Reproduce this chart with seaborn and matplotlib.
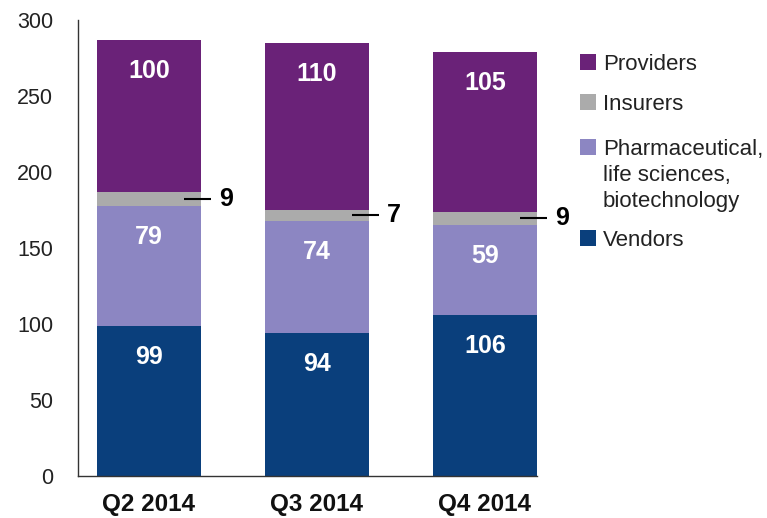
import matplotlib
matplotlib.use("Agg")
import matplotlib.pyplot as plt
from matplotlib.patches import Rectangle
import seaborn as sns
import pandas as pd
import numpy as np

quarters = ["Q2 2014", "Q3 2014", "Q4 2014"]
vendors = [99, 94, 106]
pharma = [79, 74, 59]
insurers = [9, 7, 9]
providers = [100, 110, 105]

series_names = ["Vendors", "Pharmaceutical,\nlife sciences,\nbiotechnology", "Insurers", "Providers"]
series_vals = [vendors, pharma, insurers, providers]
colors = ["#0A3F7C", "#8C86C2", "#ABABAB", "#6A2278"]

sns.set_theme(style="white")
plt.rcParams["font.family"] = ["Liberation Sans", "DejaVu Sans"]

W, H = 767, 518
fig = plt.figure(figsize=(W / 100, H / 100), dpi=100)
ax = fig.add_axes([0.102, 0.081, 0.598, 0.880])

cum = np.cumsum(np.array(series_vals), axis=0)
# draw from top (largest cumulative) down so lower segments overlay
for i in range(len(series_vals) - 1, -1, -1):
    df = pd.DataFrame({"quarter": quarters, "value": cum[i]})
    sns.barplot(data=df, x="quarter", y="value", color=colors[i], width=0.62,
                saturation=1, ax=ax, linewidth=0)

# labels
for j, q in enumerate(quarters):
    bottoms = [0, cum[0][j], cum[1][j], cum[2][j]]
    for i, vals in enumerate(series_vals):
        top = bottoms[i] + vals[j]
        mid = bottoms[i] + vals[j] / 2
        if i == 2:
            ax.plot([j + 0.21, j + 0.37], [mid, mid], color="black", lw=1.5,
                    solid_capstyle="butt", clip_on=False)
            ax.text(j + 0.42, mid, str(vals[j]), ha="left", va="center",
                    fontsize=18, fontweight="bold", color="black", clip_on=False)
        else:
            ax.text(j, top - 20.5, str(vals[j]), ha="center", va="center",
                    fontsize=18, fontweight="bold", color="white")

ax.set_xlim(-0.42, 2.31)
ax.set_ylim(0, 300)
ax.set_yticks([0, 50, 100, 150, 200, 250, 300])
ax.set_xlabel("")
ax.set_ylabel("")
ax.tick_params(axis="y", labelsize=15.5, colors="#222222", pad=18, length=0)
ax.tick_params(axis="x", labelsize=17.5, colors="#111111", pad=12, length=0)
for lab in ax.get_xticklabels():
    lab.set_fontweight("bold")
for s in ["top", "right"]:
    ax.spines[s].set_visible(False)
for s in ["left", "bottom"]:
    ax.spines[s].set_color("#333333")
    ax.spines[s].set_linewidth(1.0)

# legend (marker aligned with first line of each entry)
legend_order = [3, 2, 1, 0]
legend_y = [62, 102, 147, 238]
for idx, yy in zip(legend_order, legend_y):
    fig.add_artist(Rectangle((580 / W, 1 - (yy + 8) / H), 16 / W, 16 / H,
                             transform=fig.transFigure, facecolor=colors[idx],
                             edgecolor="none"))
    fig.text(603 / W, 1 - (yy - 8) / H, series_names[idx], ha="left", va="top",
             fontsize=16, color="#222222", linespacing=1.3)

fig.savefig("out.png", dpi=100)
